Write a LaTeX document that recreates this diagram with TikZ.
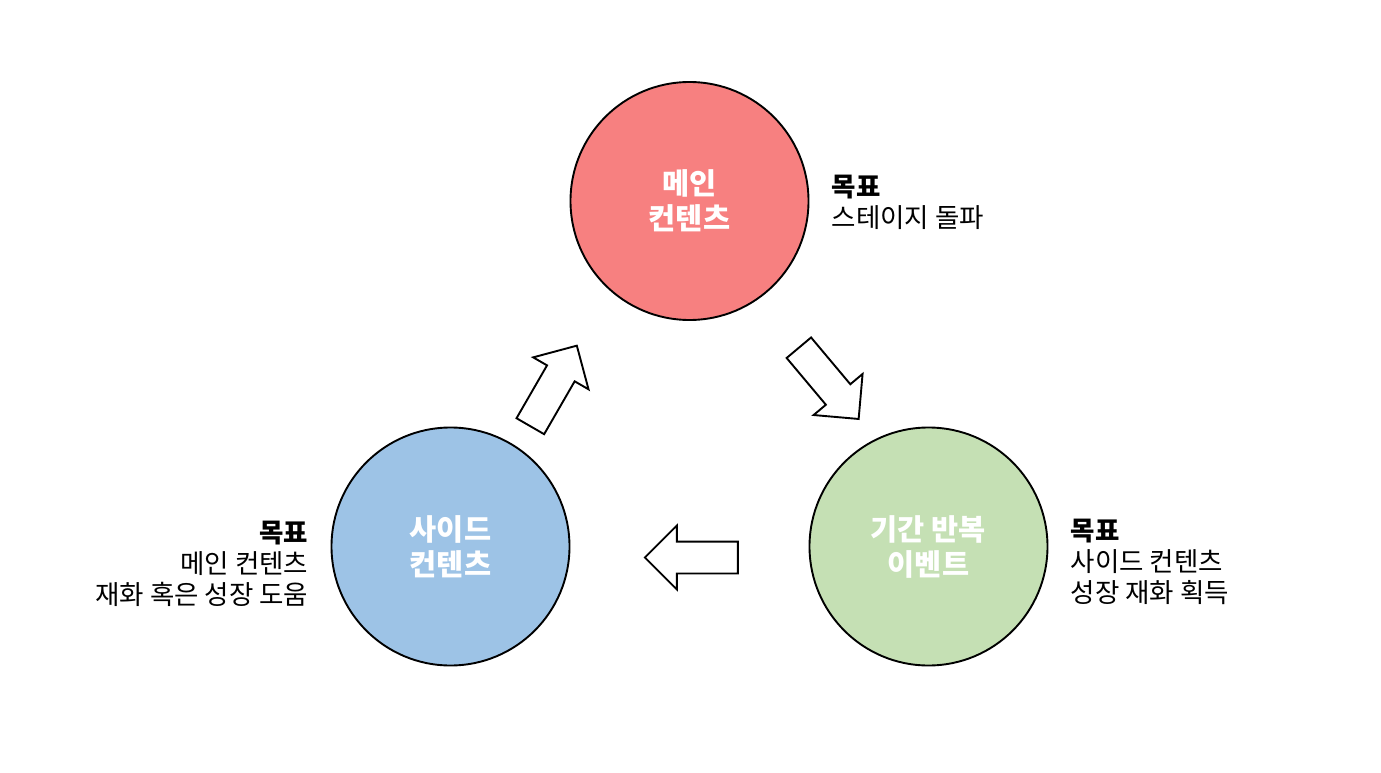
\documentclass[tikz,border=0pt]{standalone}
\usepackage{fontspec}
\setmainfont{Noto Sans CJK KR}
\usetikzlibrary{shapes.arrows,positioning}
\definecolor{mainred}{HTML}{F78080}
\definecolor{sideblue}{HTML}{9DC3E6}
\definecolor{eventgreen}{HTML}{C5E0B4}
\tikzset{
	cyc/.style={circle,draw=black,line width=1.9pt,minimum size=238pt,inner sep=0pt,
		text=white,align=center,font=\fontsize{29.5}{35}\selectfont\bfseries},
	goal/.style={inner sep=0pt,font=\fontsize{26.5}{31}\selectfont},
	blockarrow/.style={single arrow,draw=black,fill=white,line width=1.9pt,
		minimum height=93pt,inner xsep=0pt,inner ysep=15pt,single arrow head extend=16pt}
}
\begin{document}
\begin{tikzpicture}[x=1pt,y=-1pt]
	\useasboundingbox (0,0) rectangle (1381,773);
	\coordinate (M) at (689.5,201); \coordinate (S) at (450.5,546.5);
	\coordinate (E) at (928.5,546.5);
	\node[cyc,fill=mainred] (main) at (M) {메인\\컨텐츠};
	\node[cyc,fill=sideblue] (side) at (S) {사이드\\컨텐츠};
	\node[cyc,fill=eventgreen] (event) at (E) {기간 반복\\이벤트};
	% goals
	\node[goal,anchor=north west,align=left] (maingoal) at ([xshift=22pt,yshift=26pt]main.east)
		{\textbf{목표}\\스테이지 돌파};
	\node[goal,anchor=north east,align=right] (sidegoal) at ([xshift=-22pt,yshift=26pt]side.west)
		{\textbf{목표}\\메인 컨텐츠\\재화 혹은 성장 도움};
	\node[goal,anchor=north west,align=left] (eventgoal) at ([xshift=22pt,yshift=28pt]event.east)
		{\textbf{목표}\\사이드 컨텐츠\\성장 재화 획득};
	% cycle arrows
	\node[blockarrow,rotate=60,anchor=tip] (toMain) at (577.5,344.5) {};
	\node[blockarrow,rotate=-50,anchor=tip] (toEvent) at (859.5,420) {};
	\node[blockarrow,rotate=180,anchor=tip] (toSide) at (643.5,557.5) {};
\end{tikzpicture}
\end{document}
